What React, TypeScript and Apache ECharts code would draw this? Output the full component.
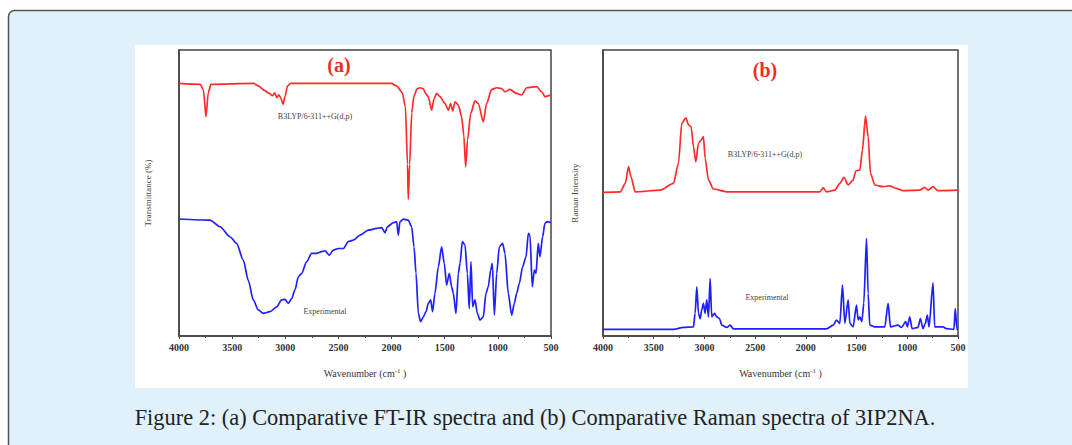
import React, { useEffect, useRef } from "react";
import * as echarts from "echarts";

const xTicks = { min: 500, max: 4000, interval: 500 };

const irCalc: [number, number][] = [
  [4000, 88.3], [3800, 88.0], [3770, 86.0], [3746, 76.7], [3725, 85.0], [3700, 88.0],
  [3300, 88.3], [3250, 87.4], [3200, 86.0], [3150, 84.8], [3120, 84.0], [3100, 85.0],
  [3080, 83.4], [3060, 84.3], [3040, 83.1], [3022, 81.0], [3000, 84.0], [2980, 87.4],
  [2950, 88.3], [2000, 88.3], [1950, 87.4], [1900, 85.1], [1870, 80.2], [1850, 60.0],
  [1843, 47.8], [1830, 60.0], [1810, 78.1], [1790, 83.9], [1760, 86.4], [1730, 86.8],
  [1700, 86.4], [1680, 84.8], [1655, 83.7], [1623, 79.0], [1600, 83.0], [1576, 84.8],
  [1545, 83.7], [1497, 81.3], [1466, 79.0], [1444, 81.3], [1425, 78.7], [1403, 81.9],
  [1372, 80.8], [1341, 76.7], [1320, 70.0], [1303, 59.2], [1285, 68.5], [1256, 77.8],
  [1215, 82.2], [1184, 81.3], [1137, 74.9], [1106, 81.3], [1058, 86.2], [1011, 86.8],
  [970, 86.6], [933, 85.4], [886, 86.2], [823, 84.8], [776, 84.3], [729, 86.8],
  [635, 87.2], [588, 85.4], [557, 83.7], [500, 84.3],
];

const irExp: [number, number][] = [
  [4000, 40.9], [3708, 40.5], [3614, 38.2], [3520, 34.7], [3458, 32.4], [3395, 26.5],
  [3348, 19.5], [3301, 12.6], [3254, 9.1], [3207, 7.9], [3144, 8.5], [3081, 10.2],
  [3034, 12.6], [3003, 12.8], [2971, 11.4], [2940, 13.1], [2909, 16.1], [2877, 20.7],
  [2846, 21.9], [2799, 26.0], [2752, 28.9], [2705, 28.9], [2658, 29.5], [2626, 29.8],
  [2586, 28.3], [2548, 30.0], [2501, 30.6], [2454, 30.6], [2407, 33.0], [2360, 33.5],
  [2297, 35.3], [2219, 37.0], [2140, 37.6], [2093, 37.9], [2062, 36.1], [2040, 38.2],
  [1984, 39.6], [1952, 40.0], [1937, 35.3], [1921, 40.0], [1889, 40.9], [1843, 40.5],
  [1811, 38.2], [1789, 31.2], [1770, 21.9], [1748, 7.9], [1727, 5.0], [1701, 6.7],
  [1676, 8.5], [1654, 11.4], [1632, 12.6], [1614, 8.5], [1592, 14.9], [1560, 24.2],
  [1529, 31.2], [1504, 25.4], [1482, 17.8], [1457, 21.9], [1435, 17.2], [1419, 14.9],
  [1394, 7.9], [1372, 21.9], [1356, 25.4], [1334, 33.0], [1309, 31.8], [1287, 21.9],
  [1269, 9.6], [1253, 26.0], [1237, 10.2], [1215, 12.6], [1193, 7.9], [1168, 5.6],
  [1137, 6.7], [1112, 14.9], [1090, 17.2], [1068, 23.0], [1052, 25.4], [1033, 7.3],
  [1011, 21.9], [986, 31.2], [955, 32.4], [933, 28.9], [902, 14.9], [870, 7.3],
  [845, 11.4], [823, 14.9], [798, 18.4], [767, 24.2], [735, 27.7], [713, 35.9],
  [698, 35.3], [676, 17.2], [657, 23.0], [641, 21.9], [620, 32.4], [604, 27.7],
  [579, 34.7], [557, 39.4], [535, 40.0], [503, 39.6],
];

const ramanCalc: [number, number][] = [
  [4000, 50.2], [3830, 50.4], [3780, 53.4], [3748, 59.2], [3725, 55.7], [3682, 50.4],
  [3436, 51.0], [3305, 53.4], [3256, 60.4], [3223, 74.4], [3183, 76.3], [3157, 73.8],
  [3131, 73.2], [3108, 66.2], [3085, 60.9], [3059, 67.4], [3033, 68.5], [3010, 69.7],
  [2993, 62.1], [2960, 54.5], [2911, 51.4], [2780, 50.4], [1862, 50.4], [1829, 51.8],
  [1796, 50.4], [1714, 51.0], [1665, 53.4], [1625, 55.5], [1583, 52.8], [1534, 54.5],
  [1507, 57.7], [1468, 58.0], [1442, 65.0], [1412, 76.9], [1386, 69.7], [1363, 56.9],
  [1320, 52.8], [1238, 52.2], [1173, 52.5], [1107, 51.6], [1042, 50.8], [878, 51.0],
  [828, 52.0], [796, 51.0], [746, 52.2], [697, 50.8], [500, 51.0],
];

const ramanExp: [number, number][] = [
  [4000, 2.3], [3305, 2.3], [3206, 3.0], [3108, 3.2], [3092, 7.9], [3075, 17.2],
  [3059, 7.9], [3042, 6.1], [3026, 9.1], [3010, 11.4], [2993, 7.9], [2977, 12.6],
  [2960, 6.7], [2944, 20.1], [2928, 6.7], [2901, 7.9], [2878, 6.7], [2852, 6.1],
  [2829, 3.8], [2780, 3.0], [2747, 3.8], [2714, 2.5], [1796, 2.5], [1730, 3.8],
  [1698, 5.6], [1665, 4.4], [1639, 17.8], [1616, 4.4], [1583, 12.6], [1566, 4.4],
  [1534, 3.2], [1501, 10.8], [1484, 5.6], [1468, 6.7], [1448, 5.0], [1429, 11.4],
  [1402, 34.1], [1386, 14.9], [1370, 3.8], [1320, 3.2], [1222, 3.2], [1189, 11.4],
  [1166, 3.2], [1091, 3.8], [1058, 3.0], [1015, 5.0], [999, 3.2], [976, 6.7],
  [953, 2.6], [894, 3.0], [871, 6.1], [845, 2.6], [822, 4.4], [802, 7.3],
  [786, 3.2], [746, 18.6], [730, 3.2], [648, 3.2], [615, 2.6], [540, 2.3],
  [527, 9.6], [510, 2.3], [500, 2.3],
];

const panelTitles = ["(a)", "(b)"];
const yNames = ["Transmittance (%)", "Raman Intensity"];
const calcLabel = "B3LYP/6-311++G(d,p)";
const expLabel = "Experimental";
const caption = "Figure 2: (a) Comparative FT-IR spectra and (b) Comparative Raman spectra of 3IP2NA.";

const SERIF = "'Liberation Serif', 'DejaVu Serif', serif";

function xAxis(gridIndex: number) {
  return {
    type: "value",
    gridIndex,
    min: xTicks.min,
    max: xTicks.max,
    interval: xTicks.interval,
    inverse: true,
    name: "Wavenumber (cm{sup|-1} )",
    nameLocation: "middle",
    nameGap: 31,
    nameTextStyle: {
      fontFamily: SERIF,
      fontSize: 10,
      color: "#333",
      rich: { sup: { fontSize: 7, verticalAlign: "top", padding: [0, 0, 6, 0], fontFamily: SERIF, color: "#333" } },
    },
    axisLine: { show: true, lineStyle: { color: "#444", width: 1.5 } },
    axisTick: { show: true, length: 3, lineStyle: { color: "#444" } },
    minorTick: { show: true, splitNumber: 2, length: 2, lineStyle: { color: "#444" } },
    splitLine: { show: false },
    axisLabel: {
      fontFamily: SERIF,
      fontSize: 10,
      color: "#333",
      fontWeight: "bold",
      margin: 6,
      formatter: (v: number) => String(v),
    },
  };
}

function yAxis(gridIndex: number, name: string, gap: number) {
  return {
    type: "value",
    gridIndex,
    min: 0,
    max: 100,
    name,
    nameLocation: "middle",
    nameGap: gap,
    nameTextStyle: { fontFamily: SERIF, fontSize: 9, color: "#444" },
    axisLine: { show: true, lineStyle: { color: "#444", width: 1.5 } },
    axisTick: { show: false },
    axisLabel: { show: false },
    splitLine: { show: false },
  };
}

function line(data: [number, number][], idx: number, color: string) {
  return {
    type: "line",
    xAxisIndex: idx,
    yAxisIndex: idx,
    data,
    showSymbol: false,
    symbol: "none",
    smooth: 0.25,
    smoothMonotone: "x",
    lineStyle: { color, width: 1.7 },
    itemStyle: { color },
    silent: true,
  };
}

function label(text: string, x: number, y: number, size: number, color: string, bold: boolean) {
  return {
    type: "text",
    x,
    y,
    silent: true,
    style: {
      text,
      fill: color,
      font: `${bold ? "bold " : ""}${size}px ${SERIF}`,
      textAlign: "center",
      textVerticalAlign: "middle",
    },
  };
}

export default function App() {
  const ref = useRef<HTMLDivElement>(null);
  useEffect(() => {
    if (!ref.current) return;
    const chart = echarts.init(ref.current, undefined, { renderer: "svg" });
    chart.setOption({
      animation: false,
      backgroundColor: "#ffffff",
      grid: [
        { left: 179, top: 50, width: 372, height: 286, show: true, borderColor: "#444", borderWidth: 1.5, backgroundColor: "transparent" },
        { left: 603, top: 50, width: 355, height: 286, show: true, borderColor: "#444", borderWidth: 1.5, backgroundColor: "transparent" },
      ],
      xAxis: [xAxis(0), xAxis(1)],
      yAxis: [yAxis(0, yNames[0], 27), yAxis(1, yNames[1], 24)],
      series: [
        line(irCalc, 0, "#ff2a2a"),
        line(irExp, 0, "#1f1fff"),
        line(ramanCalc, 1, "#ff2a2a"),
        line(ramanExp, 1, "#1f1fff"),
      ],
      graphic: [
        {
          type: "rect",
          z: -10,
          silent: true,
          shape: { x: 8.5, y: 10.5, width: 1080, height: 460, r: 6 },
          style: { fill: "#e0f1fb", stroke: "#555", lineWidth: 1.5 },
        },
        {
          type: "rect",
          z: -9,
          silent: true,
          shape: { x: 135, y: 45, width: 833, height: 343 },
          style: { fill: "#ffffff" },
        },
        label(panelTitles[0], 339, 65, 20, "#ee2b2b", true),
        label(panelTitles[1], 765, 70, 20, "#ee2b2b", true),
        label(calcLabel, 315, 116, 8, "#444", false),
        label(calcLabel, 765, 154, 8, "#444", false),
        label(expLabel, 325, 311, 8, "#444", false),
        label(expLabel, 767, 297, 8, "#444", false),
        label(caption, 535, 417, 22.4, "#222", false),
      ],
    });
    return () => chart.dispose();
  }, []);
  return <div ref={ref} style={{ position: "absolute", left: 0, top: 0, width: 1072, height: 445 }} />;
}
